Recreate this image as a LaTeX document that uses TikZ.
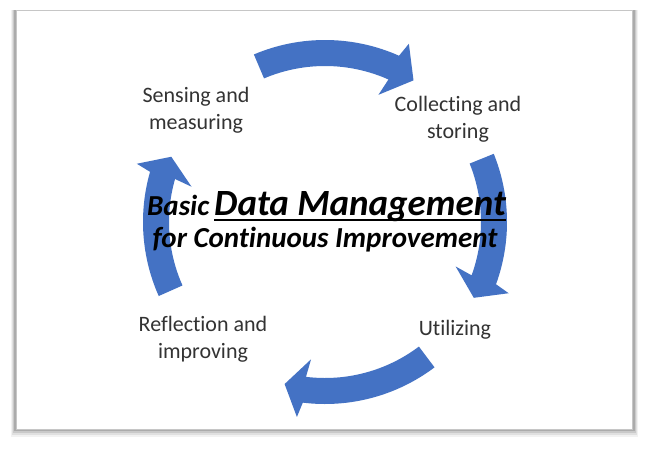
\documentclass[tikz,border=0pt]{standalone}
\usepackage{fontspec}
\setmainfont{Carlito}[Ligatures=NoCommon]
\definecolor{arrowblue}{HTML}{4472C4}
\definecolor{labelgray}{HTML}{333333}
\newcommand\cycarrow[3]{%
  \fill[arrowblue] (#1:182pt) arc[start angle=#1, end angle=#2, radius=182pt]
    -- (#2-1.2:197pt) -- (#3:167pt) -- (#2+1.2:138pt) -- (#2:156pt)
    arc[start angle=#2, end angle=#1, radius=156pt] -- cycle;}
\begin{document}
\begin{tikzpicture}[x=1pt,y=1pt,
  lbl/.style={align=center, text=labelgray, font=\fontsize{22}{26.5}\selectfont, inner sep=0pt},
  ttl/.style={inner sep=0pt, font=\bfseries\itshape\fontsize{29}{33}\selectfont}]
\useasboundingbox (0,0) rectangle (651,451);
\fill[white] (0,0) rectangle (651,451);
% frame shadow
\fill[black, opacity=0.05] (11,14) rectangle (638,441);
\fill[black, opacity=0.07] (12,16) rectangle (637,441);
\fill[black, opacity=0.10] (13,18) rectangle (636,441);
\fill[black, opacity=0.15] (14,20) rectangle (635,441);
\fill[white, draw=gray!45, line width=1pt] (16,22) rectangle (632,440);
% cycle arrows
\begin{scope}[shift={(325,229)}]
  \cycarrow{113}{66}{58}
  \cycarrow{22}{-20}{-27}
  \cycarrow{-53}{-97}{-104}
  \cycarrow{204}{164}{157}
\end{scope}
% labels
\node[lbl] (sense) at (196,340.5) {Sensing and\\measuring};
\node[lbl] (collect) at (458,331.5) {Collecting and\\storing};
\node[lbl, anchor=base] (util) at (455,116) {Utilizing};
\node[lbl] (reflect) at (203,111.5) {Reflection and\\improving};
% title
\node[ttl, anchor=base west] (basic) at (147,236) {Basic};
\node[ttl, anchor=base west, font=\bfseries\itshape\fontsize{37}{41}\selectfont] (dm) at (214,236) {Data Management};
\draw[line width=1.6pt] ([yshift=-5pt]dm.base west) -- ([yshift=-5pt]dm.base east);
\node[ttl, anchor=base] (cont) at (325,204) {for Continuous Improvement};
\end{tikzpicture}
\end{document}
